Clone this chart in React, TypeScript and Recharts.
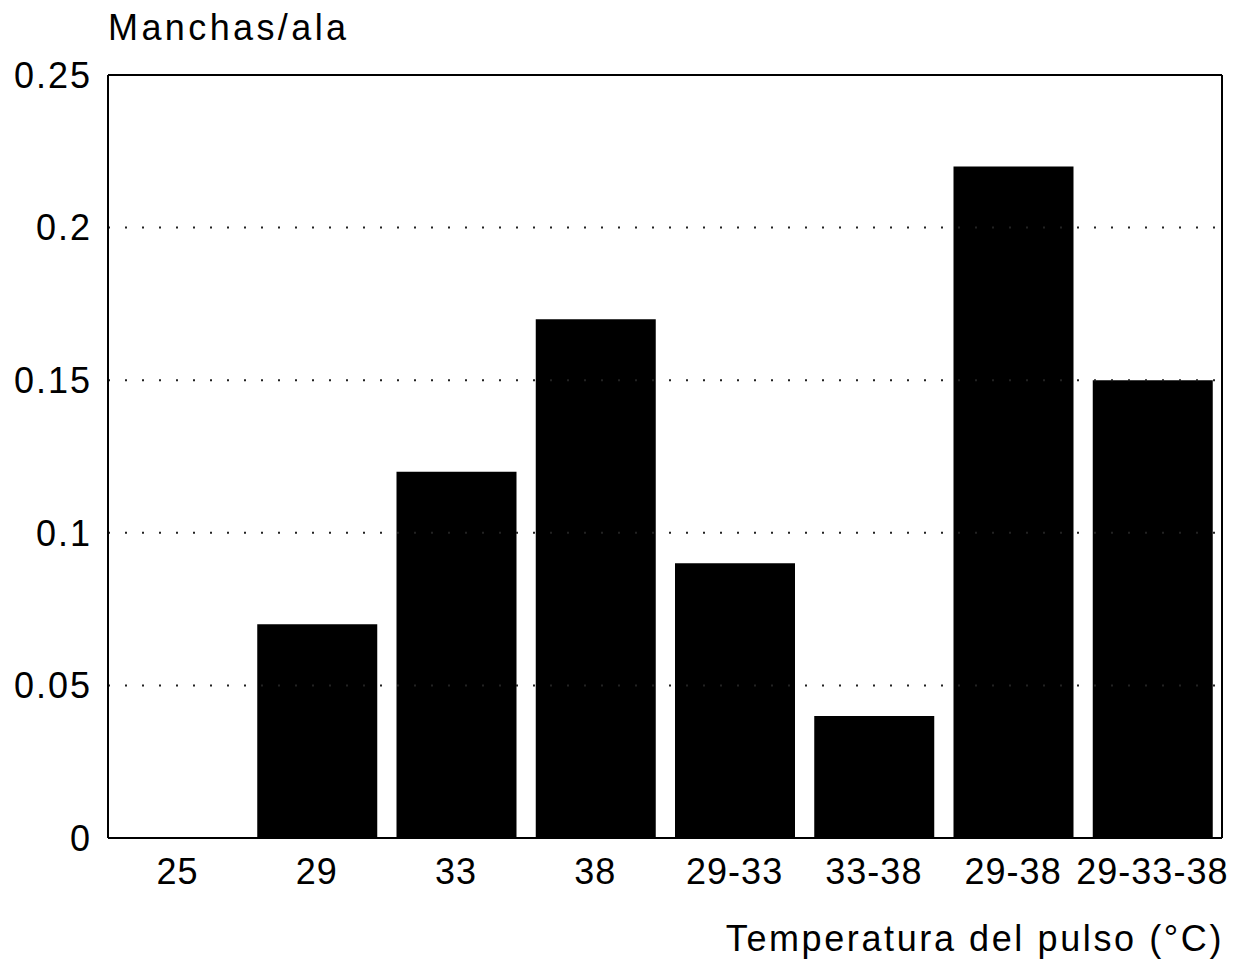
import { BarChart, Bar, XAxis, YAxis, ReferenceLine } from "recharts";

const categories = ["25", "29", "33", "38", "29-33", "33-38", "29-38", "29-33-38"];
const spotsPerWing = [0, 0.07, 0.12, 0.17, 0.09, 0.04, 0.22, 0.15];
const yTicks = [0, 0.05, 0.1, 0.15, 0.2, 0.25];
const gridValues = [0.05, 0.1, 0.15, 0.2];

const data = categories.map((c, i) => ({ temp: c, value: spotsPerWing[i] }));

const font = '"Liberation Sans", Arial, Helvetica, sans-serif';

export default function App() {
  return (
    <div style={{ position: "absolute", left: 0, top: 0, background: "#fff" }}>
      <BarChart
        width={1241}
        height={962}
        data={data}
        margin={{ top: 74, right: 18, left: 0, bottom: 0 }}
      >
        <XAxis
          dataKey="temp"
          axisLine={{ stroke: "#000", strokeWidth: 2 }}
          tickLine={false}
          tickSize={0}
          tickMargin={20}
          height={124}
          interval={0}
          tick={{ fontSize: 36, fill: "#000", fontFamily: font, letterSpacing: 1 }}
        />
        <XAxis
          xAxisId="top"
          dataKey="temp"
          orientation="top"
          axisLine={{ stroke: "#000", strokeWidth: 2 }}
          tick={false}
          tickLine={false}
          height={1}
        />
        <YAxis
          domain={[0, 0.25]}
          ticks={yTicks}
          axisLine={{ stroke: "#000", strokeWidth: 2 }}
          tickLine={false}
          tickSize={6}
          tickMargin={10}
          width={108}
          tick={{ fontSize: 36, fill: "#000", fontFamily: font, letterSpacing: 2 }}
        />
        <YAxis
          yAxisId="right"
          orientation="right"
          domain={[0, 0.25]}
          axisLine={{ stroke: "#000", strokeWidth: 2 }}
          tick={false}
          tickLine={false}
          width={1}
        />
        {gridValues.map((v) => (
          <ReferenceLine
            key={v}
            y={v}
            stroke="#222"
            strokeWidth={2}
            strokeDasharray="2 15"
          />
        ))}
        <Bar dataKey="value" fill="#000" barSize={120} isAnimationActive={false} />
        <text
          x={108}
          y={40}
          fontSize={36}
          fontFamily={font}
          letterSpacing={3.4}
          fill="#000"
        >
          Manchas/ala
        </text>
        <text
          x={1224}
          y={951}
          fontSize={36}
          fontFamily={font}
          letterSpacing={2.6}
          textAnchor="end"
          fill="#000"
        >
          Temperatura del pulso (°C)
        </text>
      </BarChart>
    </div>
  );
}
